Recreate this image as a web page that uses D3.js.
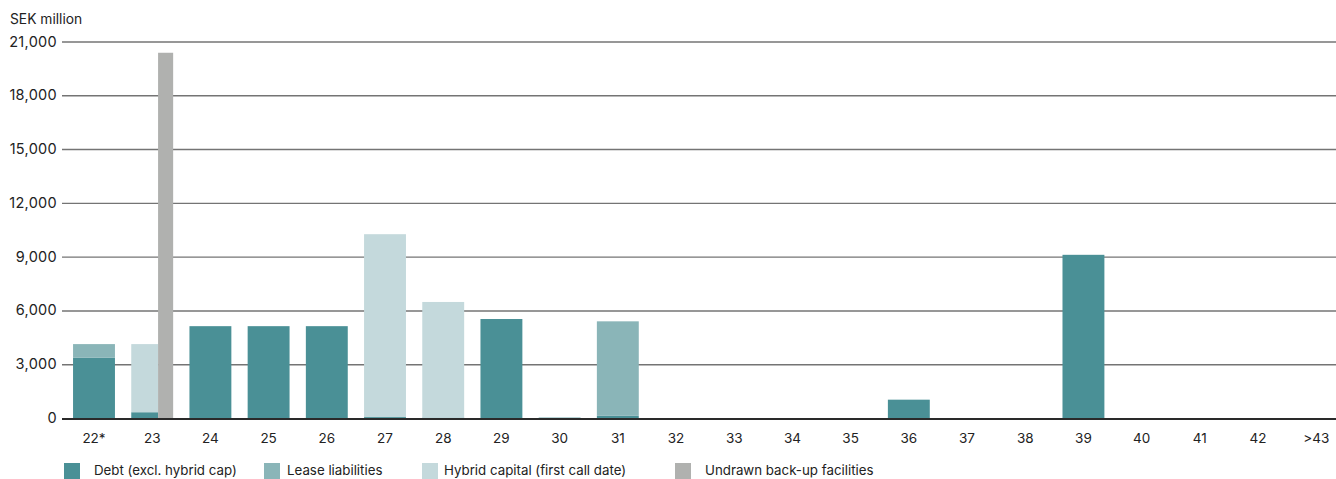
<!DOCTYPE html>
<html><head><meta charset="utf-8">
<script src="https://cdn.jsdelivr.net/npm/d3@7"></script>
<style>
html,body{margin:0;padding:0;background:#fff;}
svg{display:block;font-family:Inter, "Liberation Sans", sans-serif;}
</style></head>
<body><svg id="c" width="1336" height="479"></svg>
<script>
const categories = ["22*","23","24","25","26","27","28","29","30","31","32","33","34","35","36","37","38","39","40","41","42",">43"];
const debt    = [3400, 350, 5150, 5150, 5150,   80,   50, 5550, 50,  150, 0,0,0,0, 1050, 0,0, 9130, 0,0,0,0];
const lease   = [ 750,   0,    0,    0,    0,    0,    0,    0,  0, 5270, 0,0,0,0,    0, 0,0,    0, 0,0,0,0];
const hybrid  = [   0, 3800,   0,    0,    0, 10200, 6450,   0,  0,    0, 0,0,0,0,    0, 0,0,    0, 0,0,0,0];
const undrawn = [   0, 20400,  0,    0,    0,    0,    0,    0,  0,    0, 0,0,0,0,    0, 0,0,    0, 0,0,0,0];
const yTicks = [0, 3000, 6000, 9000, 12000, 15000, 18000, 21000];
const seriesNames = ["Debt (excl. hybrid cap)", "Lease liabilities", "Hybrid capital (first call date)", "Undrawn back-up facilities"];
const colors = ["#4a9096", "#8ab5b8", "#c4d9dc", "#b0b1af"];

const svg = d3.select("#c");
const x = d3.scaleBand().domain(categories).range([56.75, 1353.5]).padding(0.28);
const y = d3.scaleLinear().domain([0, 21000]).range([418.5, 42]);

// gridlines
svg.append("g").selectAll("line").data(yTicks.filter(d => d > 0)).join("line")
  .attr("x1", 62).attr("x2", 1336)
  .attr("y1", d => y(d)).attr("y2", d => y(d))
  .attr("stroke", "#747474").attr("stroke-width", 1.4);

// y labels
svg.append("g").selectAll("text").data(yTicks).join("text")
  .attr("x", 57).attr("y", d => y(d) + 4.5)
  .attr("text-anchor", "end").attr("font-size", 14.5).attr("fill", "#222")
  .attr("letter-spacing", 0.3)
  .text(d => d3.format(",")(d));
svg.append("text").attr("x", 10).attr("y", 24).attr("font-size", 13.8).attr("fill", "#222").text("SEK million");

// stacked bars
const rows = categories.map((c, i) => ({cat: c, debt: debt[i], lease: lease[i], hybrid: hybrid[i], undrawn: undrawn[i]}));
const stack = d3.stack().keys(["debt", "lease", "hybrid"])(rows);
const bw = x.bandwidth();
const stackW = i => undrawn[i] > 0 ? bw * 0.64 : bw;
stack.forEach((layer, k) => {
  svg.append("g").selectAll("rect").data(layer.map((d, i) => ({d, i}))).join("rect")
    .filter(o => o.d[1] - o.d[0] > 0)
    .attr("x", o => x(categories[o.i]))
    .attr("width", o => stackW(o.i))
    .attr("y", o => y(o.d[1]))
    .attr("height", o => y(o.d[0]) - y(o.d[1]))
    .attr("fill", colors[k]);
});
// undrawn
svg.append("g").selectAll("rect").data(rows.filter(r => r.undrawn > 0)).join("rect")
  .attr("x", r => x(r.cat) + bw * 0.64)
  .attr("width", bw * 0.36)
  .attr("y", r => y(r.undrawn))
  .attr("height", r => y(0) - y(r.undrawn))
  .attr("fill", colors[3]);

// baseline
svg.append("line").attr("x1", 62).attr("x2", 1336).attr("y1", y(0) + 0.5).attr("y2", y(0) + 0.5)
  .attr("stroke", "#2a2a2a").attr("stroke-width", 2);

// x labels
svg.append("g").selectAll("text").data(categories).join("text")
  .attr("x", d => x(d) + bw / 2).attr("y", 443)
  .attr("text-anchor", "middle").attr("font-size", 13.5).attr("fill", "#222")
  .text(d => d);

// legend
const legX = [64, 264, 422, 675];
const legTX = [94, 287, 444, 705];
const lg = svg.append("g");
seriesNames.forEach((n, i) => {
  lg.append("rect").attr("x", legX[i]).attr("y", 463).attr("width", 16).attr("height", 16).attr("fill", colors[i]);
  lg.append("text").attr("x", legTX[i]).attr("y", 475).attr("font-size", 13.3).attr("fill", "#222").text(n);
});
</script></body></html>
